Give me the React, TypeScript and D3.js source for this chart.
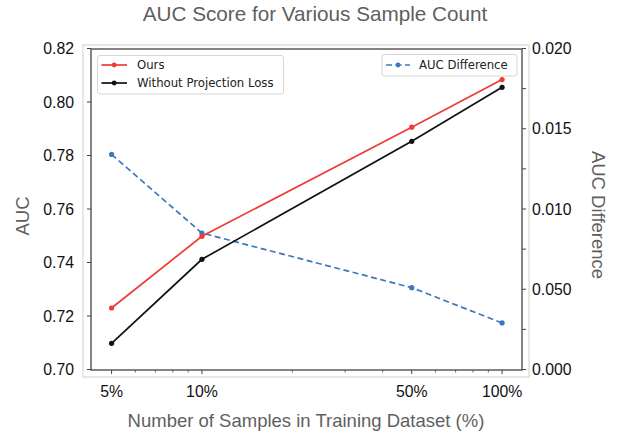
import React from "react";
import * as d3 from "d3";

const sampleCounts = [5, 10, 50, 100];
const sampleLabels = ["5%", "10%", "50%", "100%"];
const oursAUC = [0.723, 0.7498, 0.7906, 0.8084];
const withoutAUC = [0.7098, 0.7412, 0.7853, 0.8055];
const aucDiff = [0.0134, 0.0085, 0.0051, 0.0029];

const leftTicks = [0.7, 0.72, 0.74, 0.76, 0.78, 0.8, 0.82];
const leftTickLabels = ["0.70", "0.72", "0.74", "0.76", "0.78", "0.80", "0.82"];
const rightTicks = [0, 0.005, 0.01, 0.015, 0.02];
const rightTickLabels = ["0.000", "0.050", "0.010", "0.015", "0.020"];
const rightMinorTicks = [0.0025, 0.0075, 0.0125, 0.0175];
const xMinorTicks = [6, 7, 8, 9, 20, 30, 40, 60, 70, 80, 90];

const W = 620;
const H = 434;
const L = 91, R = 522, T = 49, B = 370;

const RED = "#ee3b33";
const BLACK = "#111111";
const BLUE = "#3b78c2";
const GRAY = "#5f5f5f";
const SANS = "'Liberation Sans', Arial, Helvetica, sans-serif";
const DV = "'DejaVu Sans', sans-serif";

export default function App() {
  const x = d3.scaleLog().domain([4.27, 116.5]).range([L, R]);
  const yL = d3.scaleLinear().domain([0.7, 0.82]).range([369.5, 48.5]);
  const yR = d3.scaleLinear().domain([0, 0.02]).range([369.5, 48.5]);

  const lineL = d3
    .line<number>()
    .x((_, i) => x(sampleCounts[i]))
    .y((d) => yL(d));
  const lineR = d3
    .line<number>()
    .x((_, i) => x(sampleCounts[i]))
    .y((d) => yR(d));

  return (
    <div style={{ position: "absolute", left: 0, top: 0 }}>
      <svg width={W} height={H} style={{ display: "block", background: "#fff" }}>
        <text x={315} y={21} textAnchor="middle" fontFamily={SANS} fontSize={20.7} fill={GRAY}>
          AUC Score for Various Sample Count
        </text>

        {/* outer light frame */}
        <rect x={83} y={45} width={446} height={332} fill="none" stroke="#d0d0d0" strokeWidth={1} />

        {/* axes frame */}
        <rect x={L} y={T} width={R - L} height={B - T} fill="#fff" stroke="#444" strokeWidth={1.3} />

        {/* left ticks */}
        {leftTicks.map((t, i) => (
          <g key={"l" + i}>
            <line x1={L - 4} x2={L} y1={yL(t)} y2={yL(t)} stroke="#444" strokeWidth={1} />
            <text x={74} y={yL(t)} dy="0.36em" textAnchor="end" fontFamily={SANS} fontSize={15.8} fill="#111">
              {leftTickLabels[i]}
            </text>
          </g>
        ))}

        {/* right ticks */}
        {rightTicks.map((t, i) => (
          <g key={"r" + i}>
            <line x1={R} x2={R + 4} y1={yR(t)} y2={yR(t)} stroke="#444" strokeWidth={1} />
            <text x={532} y={yR(t)} dy="0.36em" textAnchor="start" fontFamily={SANS} fontSize={15.8} fill="#111">
              {rightTickLabels[i]}
            </text>
          </g>
        ))}
        {rightMinorTicks.map((t, i) => (
          <line key={"rm" + i} x1={R} x2={R + 4} y1={yR(t)} y2={yR(t)} stroke="#444" strokeWidth={1} />
        ))}

        {/* x ticks */}
        {sampleCounts.map((c, i) => (
          <g key={"x" + i}>
            <line x1={x(c)} x2={x(c)} y1={B} y2={B + 4} stroke="#444" strokeWidth={1} />
            <text x={x(c)} y={397} textAnchor="middle" fontFamily={SANS} fontSize={15.8} fill="#111">
              {sampleLabels[i]}
            </text>
          </g>
        ))}
        {xMinorTicks.map((c, i) => (
          <line key={"xm" + i} x1={x(c)} x2={x(c)} y1={B} y2={B + 2.5} stroke="#444" strokeWidth={0.8} />
        ))}

        {/* axis labels */}
        <text x={306} y={427} textAnchor="middle" fontFamily={SANS} fontSize={18.5} fill={GRAY}>
          Number of Samples in Training Dataset (%)
        </text>
        <text
          transform={`translate(29,216) rotate(-90)`}
          textAnchor="middle"
          fontFamily={SANS}
          fontSize={18.5}
          fill={GRAY}
        >
          AUC
        </text>
        <text
          transform={`translate(591.5,215) rotate(90)`}
          textAnchor="middle"
          fontFamily={SANS}
          fontSize={18.5}
          fill={GRAY}
        >
          AUC Difference
        </text>

        {/* series */}
        <path d={lineR(aucDiff) || ""} fill="none" stroke={BLUE} strokeWidth={1.7} strokeDasharray="6,3.5" />
        {aucDiff.map((v, i) => (
          <circle key={"bd" + i} cx={x(sampleCounts[i])} cy={yR(v)} r={2.6} fill={BLUE} />
        ))}
        <path d={lineL(oursAUC) || ""} fill="none" stroke={RED} strokeWidth={1.7} />
        {oursAUC.map((v, i) => (
          <circle key={"rd" + i} cx={x(sampleCounts[i])} cy={yL(v)} r={2.6} fill={RED} />
        ))}
        <path d={lineL(withoutAUC) || ""} fill="none" stroke={BLACK} strokeWidth={1.7} />
        {withoutAUC.map((v, i) => (
          <circle key={"kd" + i} cx={x(sampleCounts[i])} cy={yL(v)} r={2.6} fill={BLACK} />
        ))}

        {/* legend left */}
        <rect x={97.5} y={55.5} width={186} height={38.5} rx={2.5} fill="#fff" fillOpacity={0.85} stroke="#d6d6d6" />
        <line x1={101.5} x2={127} y1={65} y2={65} stroke={RED} strokeWidth={1.7} />
        <circle cx={114.2} cy={65} r={2.4} fill={RED} />
        <text x={137} y={65} dy="0.36em" fontFamily={DV} fontSize={11.7} fill="#222">Ours</text>
        <line x1={101.5} x2={127} y1={83} y2={83} stroke={BLACK} strokeWidth={1.7} />
        <circle cx={114.2} cy={83} r={2.4} fill={BLACK} />
        <text x={137} y={83} dy="0.36em" fontFamily={DV} fontSize={11.7} fill="#222">Without Projection Loss</text>

        {/* legend right */}
        <rect x={382} y={54.5} width={135} height={21.5} rx={2.5} fill="#fff" fillOpacity={0.85} stroke="#d6d6d6" />
        <line x1={386} x2={410} y1={65} y2={65} stroke={BLUE} strokeWidth={1.7} strokeDasharray="6,3.5" />
        <circle cx={398} cy={65} r={2.4} fill={BLUE} />
        <text x={419} y={65} dy="0.36em" fontFamily={DV} fontSize={11.7} fill="#222">AUC Difference</text>
      </svg>
    </div>
  );
}
